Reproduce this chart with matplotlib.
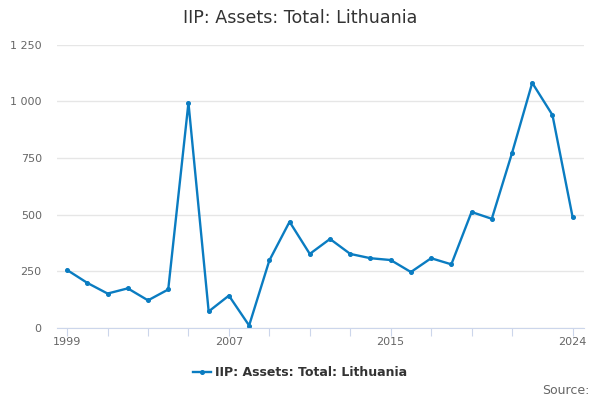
import numpy as np
import matplotlib.pyplot as plt
from matplotlib.ticker import FuncFormatter
from matplotlib.lines import Line2D

# data
years = list(range(1999, 2025))
assets = [256, 199, 152, 175, 122, 170, 994, 73, 143, 11, 298, 469, 327, 393,
          327, 308, 300, 247, 308, 281, 512, 482, 772, 1082, 940, 488]
series_name = 'IIP: Assets: Total: Lithuania'
y_ticks = [0, 250, 500, 750, 1000, 1250]
x_ticks = list(range(1999, 2022, 2)) + [2024]
x_labels = {1999: '1999', 2007: '2007', 2015: '2015', 2024: '2024'}

line_color = '#0a7cc1'
text_color = '#666666'

fig = plt.figure(figsize=(6, 4), dpi=100)
ax = fig.add_axes([0.095, 0.18, 0.878, 0.708])

ax.plot(years, assets, color=line_color, linewidth=1.7, marker='o', markersize=2.6)

ax.set_ylim(0, 1250)
ax.set_xlim(1998.5, 2024.55)
ax.set_yticks(y_ticks)
ax.yaxis.set_major_formatter(FuncFormatter(lambda v, p: f'{int(v):,}'.replace(',', ' ')))
ax.set_xticks(x_ticks)
ax.set_xticklabels([x_labels.get(y, '') for y in x_ticks])

ax.grid(axis='y', color='#e6e6e6', linewidth=1)
ax.set_axisbelow(True)
for s in ['top', 'right', 'left']:
    ax.spines[s].set_visible(False)
ax.spines['bottom'].set_color('#ccd6eb')
ax.tick_params(axis='y', length=0, labelsize=8, labelcolor=text_color, pad=11)
ax.tick_params(axis='x', length=6, color='#ccd6eb', labelsize=8, labelcolor=text_color, pad=0.5)

fig.text(0.5, 0.955, series_name, ha='center', va='center', fontsize=12.6, color='#333333')

handle = Line2D([], [], color=line_color, linewidth=1.7, marker='o', markersize=2.6)
fig.legend([handle], [series_name], loc='center', bbox_to_anchor=(0.5, 0.068),
           frameon=False, prop={'weight': 'bold', 'size': 9}, handlelength=1.4,
           handletextpad=0.3, labelcolor='#333333')

fig.text(0.982, 0.025, 'Source:', ha='right', va='center', fontsize=9, color=text_color)

fig.savefig('out.png', dpi=100)
